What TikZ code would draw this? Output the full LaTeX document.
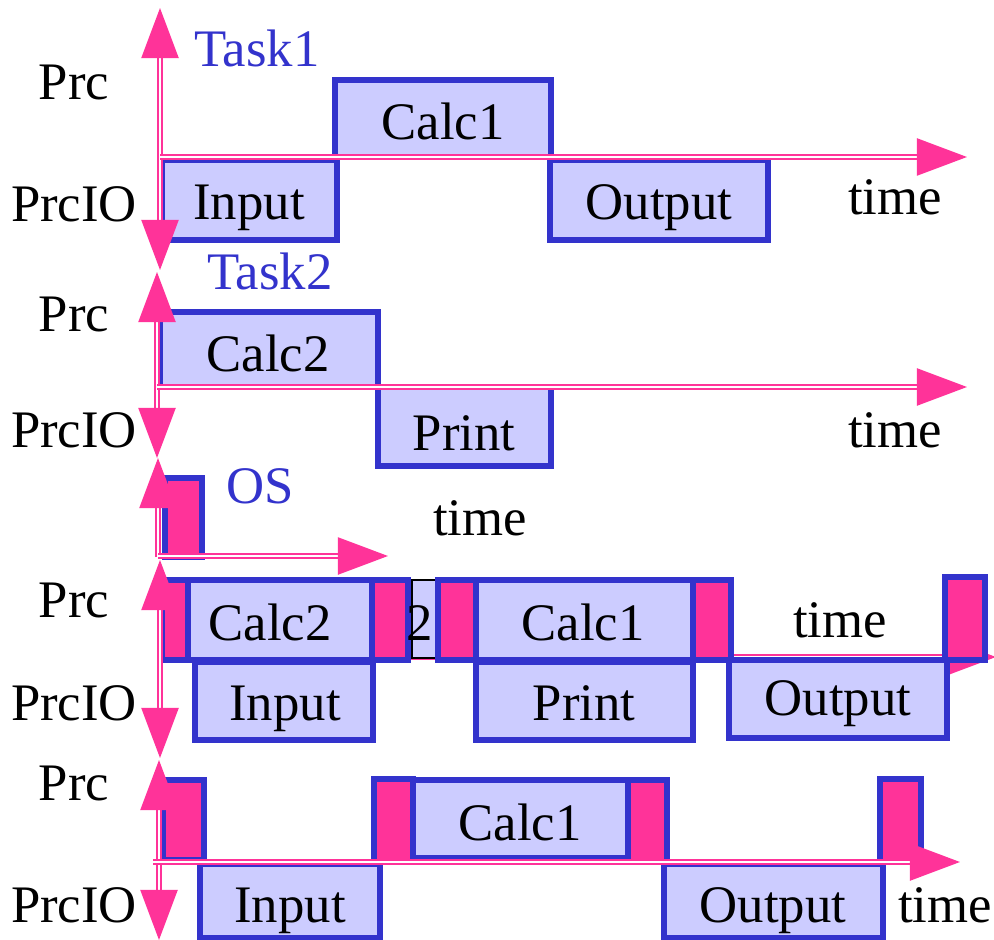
\documentclass[tikz,border=0pt]{standalone}
\usepackage{fontspec}
\setmainfont{Liberation Serif}
\usetikzlibrary{arrows.meta}
\definecolor{axispink}{RGB}{255,51,153}
\definecolor{boxblue}{RGB}{51,51,204}
\definecolor{boxfill}{RGB}{204,204,255}
\begin{document}
\begin{tikzpicture}[x=0.01cm,y=-0.01cm,font=\fontsize{15}{18}\selectfont,
  axis/.style={draw=axispink,line width=0.6pt,double=white,double distance=0.6pt},
  >={Triangle[length=5mm,width=3.7mm]},
  job/.style={draw=boxblue,fill=boxfill,line width=1.5pt},
  sys/.style={draw=boxblue,fill=axispink,line width=1.5pt},
  lbl/.style={anchor=base},
  tname/.style={anchor=base,text=boxblue}]
\useasboundingbox(0,0)rectangle(994,940);
% Task1
\draw[job](335,80)rectangle(551,157);
\draw[job](162,160)rectangle(337,240);
\draw[job](550,160)rectangle(768,240);
\draw[axis,<->](160,270)--(160,8);
\draw[axis,->](160,157)--(967,157);
\node[tname](t1)at(257,67){Task1};
\node[lbl](t1prc)at(74,100){Prc};
\node[lbl](t1io)at(74,222){PrcIO};
\node[lbl](t1time)at(895,215){time};
\node[lbl](t1calc)at(443,140){Calc1};
\node[lbl](t1in)at(249,220){Input};
\node[lbl](t1out)at(659,220){Output};
% Task2
\draw[job](160,312)rectangle(378,387);
\draw[job](378,387)rectangle(551,466);
\draw[axis,<->](157,458)--(157,272);
\draw[axis,->](157,387)--(967,387);
\node[tname](t2)at(270,290){Task2};
\node[lbl](t2prc)at(74,332){Prc};
\node[lbl](t2io)at(74,448){PrcIO};
\node[lbl](t2time)at(895,448){time};
\node[lbl](t2calc)at(268,372){Calc2};
\node[lbl](t2print)at(464,450){Print};
% OS
\draw[sys](165,478)rectangle(202,557);
\draw[axis,->](158,557)--(158,458);
\draw[axis,->](158,556)--(388,556);
\node[tname](os)at(260,503){OS};
\node[lbl](ostime)at(480,535){time};
% all together
\draw[axis,->](160,657)--(996,657);
\draw[sys](162,580)rectangle(190,660);
\draw[job](188,580)rectangle(372,660);
\draw[sys](372,580)rectangle(408,660);
\draw[fill=boxfill](412,580)rectangle(437,658);
\draw[sys](438,580)rectangle(477,660);
\draw[job](476,580)rectangle(693,660);
\draw[sys](693,580)rectangle(731,660);
\draw[sys](945,577)rectangle(985,660);
\draw[job](195,662)rectangle(373,740);
\draw[job](476,662)rectangle(693,740);
\draw[job](729,660)rectangle(947,738);
\draw[axis,<->](160,758)--(160,560);
\node[lbl](s1prc)at(74,617){Prc};
\node[lbl](s1io)at(74,720){PrcIO};
\node[lbl](s1time)at(840,637){time};
\node[lbl](s1calc2)at(270,640){Calc2};
\node[lbl](s1rest)at(420,640){2};
\node[lbl](s1calc1)at(583,640){Calc1};
\node[lbl](s1in)at(285,720){Input};
\node[lbl](s1print)at(584,720){Print};
\node[lbl](s1out)at(838,715){Output};
% with OS
\draw[sys](163,780)rectangle(204,860);
\draw[sys](374,779)rectangle(413,862);
\draw[job](413,780)rectangle(628,858);
\draw[sys](628,780)rectangle(667,862);
\draw[sys](880,779)rectangle(921,862);
\draw[job](200,864)rectangle(380,938);
\draw[job](664,864)rectangle(883,938);
\draw[axis,<->](159,940)--(159,760);
\draw[axis,->](153,862)--(960,862);
\node[lbl](s2prc)at(74,800){Prc};
\node[lbl](s2io)at(74,922){PrcIO};
\node[lbl](s2time)at(945,922){time};
\node[lbl](s2calc)at(520,840){Calc1};
\node[lbl](s2in)at(290,922){Input};
\node[lbl](s2out)at(773,922){Output};
\end{tikzpicture}
\end{document}
